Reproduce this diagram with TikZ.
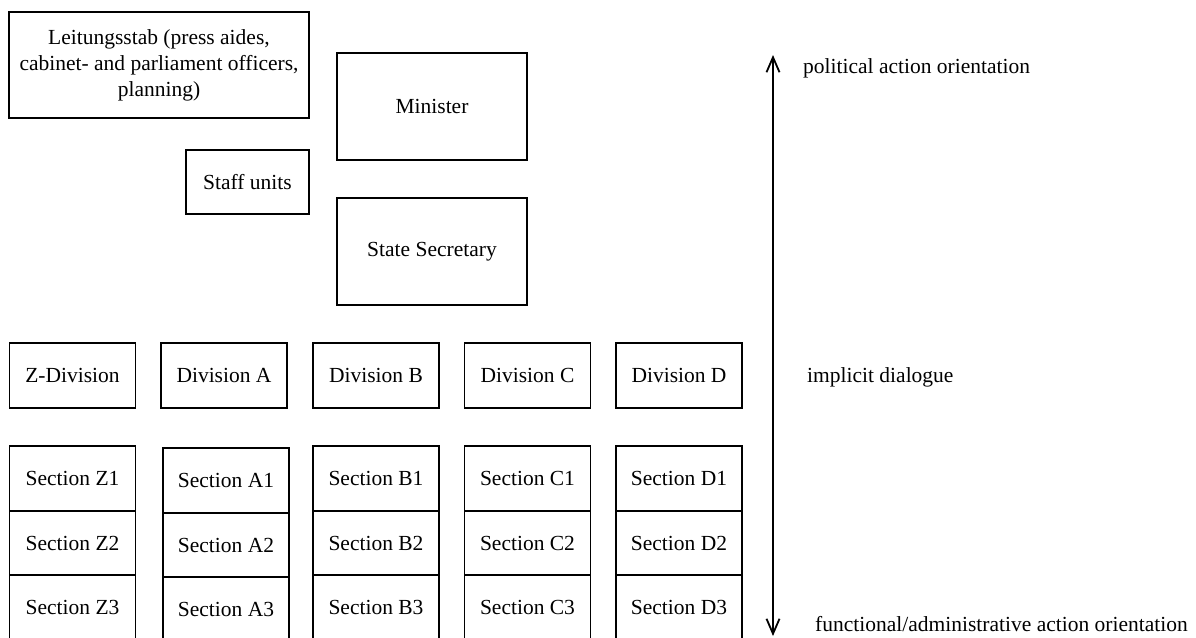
\documentclass[tikz,border=0pt]{standalone}
\usepackage{fontspec}
\setmainfont{Liberation Serif}
\usetikzlibrary{arrows.meta}

\tikzset{
    unit/.style={draw, black, line width=1.8pt, inner sep=0pt, align=center,
        minimum width=126pt, minimum height=65pt,
        font=\fontsize{21.5}{26}\selectfont},
    tall/.style={unit, minimum width=190pt, minimum height=107pt},
    axislabel/.style={inner sep=0pt, anchor=base west, font=\fontsize{21.5}{26}\selectfont}
}

\begin{document}
\begin{tikzpicture}[x=1pt, y=-1pt]
        \useasboundingbox (0,0) rectangle (1196,637);

        \node[unit, minimum width=300pt, minimum height=106pt] (lstab) at (159,65) {Leitungsstab (press aides,\\cabinet- and parliament officers,\\planning)};
        \node[tall] (minister) at (432,106.5) {Minister};
        \node[unit, minimum width=123pt, minimum height=64pt] (staff) at (247.5,182) {Staff units};
        \node[tall] (statesec) at (432,251.5) {State Secretary};

        \node[unit] (divZ) at (72.5,375.5) {Z-Division};
        \node[unit] (divA) at (224,375.5) {Division A};
        \node[unit] (divB) at (376,375.5) {Division B};
        \node[unit] (divC) at (527.5,375.5) {Division C};
        \node[unit] (divD) at (679,375.5) {Division D};

        \node[unit] (secZ1) at (72.5,478.5) {Section Z1};
        \node[unit] (secZ2) at (72.5,543) {Section Z2};
        \node[unit] (secZ3) at (72.5,607.5) {Section Z3};
        \node[unit] (secA1) at (226,480.5) {Section A1};
        \node[unit] (secA2) at (226,545) {Section A2};
        \node[unit] (secA3) at (226,609.5) {Section A3};
        \node[unit] (secB1) at (376,478.5) {Section B1};
        \node[unit] (secB2) at (376,543) {Section B2};
        \node[unit] (secB3) at (376,607.5) {Section B3};
        \node[unit] (secC1) at (527.5,478.5) {Section C1};
        \node[unit] (secC2) at (527.5,543) {Section C2};
        \node[unit] (secC3) at (527.5,607.5) {Section C3};
        \node[unit] (secD1) at (679,478.5) {Section D1};
        \node[unit] (secD2) at (679,543) {Section D2};
        \node[unit] (secD3) at (679,607.5) {Section D3};

        \coordinate (axistop) at (773,55);
        \coordinate (axisbot) at (773,636);
        \draw[line width=1.8pt, {Straight Barb[length=15pt,width=13pt]}-{Straight Barb[length=15pt,width=13pt]}] (axistop) -- (axisbot);

        \node[axislabel] (political) at (803,73) {political action orientation};
        \node[axislabel] (dialogue) at (807,382) {implicit dialogue};
        \node[axislabel] (functional) at (815,631) {functional/administrative action orientation};
    \end{tikzpicture}
\end{document}
